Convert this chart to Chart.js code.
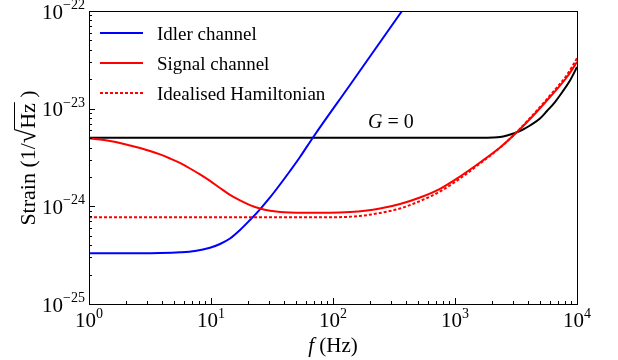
<!DOCTYPE html>
<html>
<head>
<meta charset="utf-8">
<script src="https://cdn.jsdelivr.net/npm/chart.js@4.4.1/dist/chart.umd.min.js"></script>
<style>
  html, body { margin: 0; padding: 0; background: #fff; }
  #wrap { width: 618px; height: 360px; }
</style>
</head>
<body>
<div id="wrap"><canvas id="strain" width="618" height="360"></canvas></div>
<script>
// values (f in Hz, strain in 1/sqrt(Hz))
var idlerFreq   = [1, 2.17, 3.82, 5.57, 7.39, 9.81, 11.85, 14.31, 17.29, 20.88, 25.21, 30.45, 36.78, 44.42, 53.65,
                   68.55, 137.8, 367.9, 516.7];
var idlerStrain = [3.305e-25, 3.313e-25, 3.33e-25, 3.385e-25, 3.49e-25, 3.764e-25, 4.116e-25, 4.685e-25, 5.723e-25,
                   7.245e-25, 9.326e-25, 1.232e-24, 1.673e-24, 2.30e-24, 3.20e-24, 5.07e-24, 1.748e-23, 1.0e-22, 1.824e-22];

var signalFreq   = [1, 1.231, 1.486, 1.795, 2.168, 2.618, 3.162, 3.819, 4.613, 5.57, 6.729, 8.126, 9.813, 11.85, 14.31,
                    17.29, 20.88, 25.21, 30.45, 36.78, 44.42, 53.65, 94.5, 137.8, 182.9, 242.8, 354.2, 516.7, 753.6,
                    1099, 1603, 2338, 3104, 4119, 6006, 8279, 10000];
var signalStrain = [4.97e-24, 4.83e-24, 4.67e-24, 4.45e-24, 4.20e-24, 3.96e-24, 3.69e-24, 3.40e-24, 3.09e-24, 2.78e-24,
                    2.44e-24, 2.12e-24, 1.82e-24, 1.54e-24, 1.31e-24, 1.15e-24, 1.03e-24, 9.50e-25, 9.02e-25, 8.77e-25,
                    8.65e-25, 8.59e-25, 8.61e-25, 8.75e-25, 9.00e-25, 9.48e-25, 1.057e-24, 1.232e-24, 1.512e-24,
                    2.021e-24, 2.811e-24, 4.003e-24, 5.503e-24, 7.836e-24, 1.317e-23, 2.111e-23, 3.004e-23];

var idealFreq   = [1, 10, 50, 100, 165, 242.8, 354.2, 516.7, 753.6, 1099, 1603, 2338, 3104, 4119, 6006, 8279, 10000];
var idealStrain = [7.72e-25, 7.72e-25, 7.72e-25, 7.73e-25, 7.96e-25, 8.55e-25, 9.50e-25, 1.134e-24, 1.419e-24, 1.928e-24,
                   2.746e-24, 3.976e-24, 5.53e-24, 8.02e-24, 1.364e-23, 2.222e-23, 3.279e-23];

var g0Freq   = [1, 10, 100, 1000, 1603, 2048, 2338, 2669, 3104, 3541, 4119, 4974, 5677, 6600, 7534, 8762, 10000];
var g0Strain = [5.045e-24, 5.045e-24, 5.045e-24, 5.045e-24, 5.045e-24, 5.069e-24, 5.129e-24, 5.314e-24, 5.636e-24,
                6.048e-24, 6.726e-24, 7.93e-24, 9.46e-24, 1.170e-23, 1.464e-23, 1.943e-23, 2.670e-23];

var xTickValues = [1, 10, 100, 1000, 10000];
var xTickExps   = ['0', '1', '2', '3', '4'];
var yTickValues = [1e-25, 1e-24, 1e-23, 1e-22];
var yTickExps   = ['\u221225', '\u221224', '\u221223', '\u221222'];

var legendNames = ['Idler channel', 'Signal channel', 'Idealised Hamiltonian'];
var g0Label = { f: 194, strain: 6.3e-24 };

var serif = '"Liberation Serif", "Times New Roman", serif';

function pts(fs, vs) {
  return fs.map(function (f, i) { return { x: f, y: vs[i] }; });
}

var frameAndText = {
  id: 'frameAndText',
  afterDatasetsDraw: function (chart) {
    var ctx = chart.ctx, a = chart.chartArea;
    var xs = chart.scales.x, ys = chart.scales.y;
    ctx.save();

    // frame
    ctx.strokeStyle = '#000';
    ctx.lineWidth = 1;
    ctx.strokeRect(a.left + 0.5, a.top + 0.5, a.right - a.left, a.bottom - a.top);

    // inward ticks on bottom and left
    ctx.beginPath();
    var d, m, p;
    for (d = 0; d <= 4; d++) {
      for (m = 1; m <= 9; m++) {
        var fx = m * Math.pow(10, d);
        if (fx > 10000) break;
        p = Math.round(xs.getPixelForValue(fx)) + 0.5;
        ctx.moveTo(p, a.bottom);
        ctx.lineTo(p, a.bottom - (m === 1 ? 6 : 3));
      }
    }
    for (d = -25; d <= -22; d++) {
      for (m = 1; m <= 9; m++) {
        var vy = m * Math.pow(10, d);
        if (vy > 1.0001e-22) break;
        p = Math.round(ys.getPixelForValue(vy)) + 0.5;
        ctx.moveTo(a.left, p);
        ctx.lineTo(a.left + (m === 1 ? 6 : 3), p);
      }
    }
    ctx.stroke();

    // tick labels with superscripts
    ctx.fillStyle = '#000';
    ctx.textAlign = 'left';
    ctx.textBaseline = 'alphabetic';
    var big = '21px ' + serif, small = '14px ' + serif;
    xTickValues.forEach(function (v, i) {
      ctx.font = big; var w1 = ctx.measureText('10').width;
      ctx.font = small; var w2 = ctx.measureText(xTickExps[i]).width;
      var x0 = xs.getPixelForValue(v) - (w1 + w2) / 2;
      ctx.font = big; ctx.fillText('10', x0, 327);
      ctx.font = small; ctx.fillText(xTickExps[i], x0 + w1, 318);
    });
    yTickValues.forEach(function (v, i) {
      ctx.font = big; var w1 = ctx.measureText('10').width;
      ctx.font = small; var w2 = ctx.measureText(yTickExps[i]).width;
      var yp = ys.getPixelForValue(v);
      var x0 = 85 - w1 - w2;
      ctx.font = big; ctx.fillText('10', x0, yp + 7.5);
      ctx.font = small; ctx.fillText(yTickExps[i], x0 + w1, yp - 2);
    });

    // x title: f (Hz)
    ctx.font = 'italic 21px ' + serif; var wf = ctx.measureText('f').width;
    ctx.font = '21px ' + serif; var wh = ctx.measureText(' (Hz)').width;
    var xt = (a.left + a.right) / 2 - (wf + wh) / 2;
    ctx.font = 'italic 21px ' + serif; ctx.fillText('f', xt, 352);
    ctx.font = '21px ' + serif; ctx.fillText(' (Hz)', xt + wf, 352);

    // y title: Strain (1/sqrt(Hz) ), radical a bit larger like the original
    ctx.save();
    ctx.translate(35, 158);
    ctx.rotate(-Math.PI / 2);
    var fonts = ['22px ', '26px ', '22px ', '22px '];
    var parts = ['Strain (1/', '\u221A', 'Hz', ' )'];
    var ws = parts.map(function (s, i) { ctx.font = fonts[i] + serif; return ctx.measureText(s).width; });
    var total = ws.reduce(function (s, w) { return s + w; }, 0);
    var x = -total / 2, hzStart = 0, hzEnd = 0, rootTop = 0;
    parts.forEach(function (s, i) {
      ctx.font = fonts[i] + serif;
      ctx.fillText(s, x, 0);
      if (i === 1) rootTop = ctx.measureText(s).actualBoundingBoxAscent;
      if (i === 2) { hzStart = x; hzEnd = x + ws[i]; }
      x += ws[i];
    });
    ctx.beginPath();
    ctx.lineWidth = 1;
    ctx.moveTo(hzStart - 1, -rootTop + 0.5);
    ctx.lineTo(hzEnd + 1, -rootTop + 0.5);
    ctx.stroke();
    ctx.restore();

    // G = 0 annotation
    var gx = xs.getPixelForValue(g0Label.f), gy = ys.getPixelForValue(g0Label.strain);
    ctx.font = 'italic 20px ' + serif; var wg = ctx.measureText('G').width;
    ctx.fillText('G', gx, gy);
    ctx.font = '20px ' + serif; ctx.fillText(' = 0', gx + wg, gy);

    // legend in the upper left of the plot
    var ds = chart.data.datasets;
    ctx.font = '19px ' + serif;
    for (var k = 0; k < legendNames.length; k++) {
      var ly = a.top + 22 + k * 30;
      var set = ds[k];
      ctx.beginPath();
      ctx.strokeStyle = set.borderColor;
      ctx.lineWidth = 2;
      ctx.setLineDash(set.borderDash || []);
      ctx.moveTo(a.left + 11, ly);
      ctx.lineTo(a.left + 54, ly);
      ctx.stroke();
      ctx.setLineDash([]);
      ctx.fillText(legendNames[k], a.left + 68, ly + 6.5);
    }
    ctx.restore();
  }
};

var common = { pointRadius: 0, borderWidth: 2, fill: false, cubicInterpolationMode: 'monotone' };

new Chart(document.getElementById('strain'), {
  type: 'line',
  data: {
    datasets: [
      Object.assign({ label: legendNames[0], data: pts(idlerFreq, idlerStrain), borderColor: '#0000ff', order: 3 }, common),
      Object.assign({ label: legendNames[1], data: pts(signalFreq, signalStrain), borderColor: '#ff0000', order: 2 }, common),
      Object.assign({ label: legendNames[2], data: pts(idealFreq, idealStrain), borderColor: '#ff0000', borderDash: [3, 2], order: 1 }, common),
      Object.assign({ label: 'G = 0', data: pts(g0Freq, g0Strain), borderColor: '#000000', order: 4 }, common)
    ]
  },
  options: {
    responsive: false,
    animation: false,
    layout: { padding: { left: 89, right: 41, top: 11, bottom: 56 } },
    plugins: { legend: { display: false }, tooltip: { enabled: false } },
    scales: {
      x: { type: 'logarithmic', min: 1, max: 10000, display: false },
      y: { type: 'logarithmic', min: 1e-25, max: 1e-22, display: false }
    }
  },
  plugins: [frameAndText]
});
</script>
</body>
</html>
